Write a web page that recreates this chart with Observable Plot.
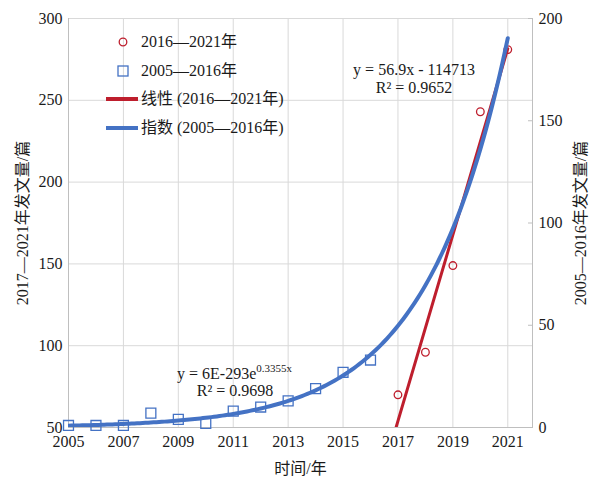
<!DOCTYPE html>
<html><head><meta charset="utf-8">
<script src="https://cdn.jsdelivr.net/npm/d3@7"></script>
<script src="https://cdn.jsdelivr.net/npm/@observablehq/plot@0.6"></script>
<style>
body{margin:0;background:#fff;}
#wrap{position:relative;width:608px;height:484px;font-family:"Liberation Serif","Noto Sans CJK SC",serif;color:#1a1a1a;}
#wrap svg{display:block;}
.ov{position:absolute;font-size:16px;white-space:nowrap;line-height:1;transform:translateY(-50%);}
.ovc{position:absolute;font-size:16px;white-space:nowrap;line-height:1;transform:translate(-50%,-50%);}
.ov sup{font-size:11px;vertical-align:0;position:relative;top:-7px;}
</style></head><body><div id="wrap"></div>
<script>
// ---- data ----
const years2 = [2017, 2018, 2019, 2020, 2021];          // 2016—2021年 (left axis)
const counts2 = [70, 96, 149, 243, 281];
const years1 = [2005, 2006, 2007, 2008, 2009, 2010, 2011, 2012, 2013, 2014, 2015, 2016]; // 2005—2016年 (right axis)
const counts1 = [1, 1, 1, 7, 4, 2, 8, 10, 13, 19, 27, 33];
const leftTicks = [50, 100, 150, 200, 250, 300];
const rightTicks = [0, 50, 100, 150, 200];
const xTicks = [2005, 2007, 2009, 2011, 2013, 2015, 2017, 2019, 2021];
const seriesNames = ["2016—2021年", "2005—2016年", "线性 (2016—2021年)", "指数 (2005—2016年)"];
const eqLinear = ["y = 56.9x - 114713", "R² = 0.9652"];
const eqExp = ["y = 6E-293e", "0.3355x", "R² = 0.9698"];
const yLeftTitle = "2017—2021年发文量/篇";
const yRightTitle = "2005—2016年发文量/篇";
const xTitle = "时间/年";

const RED = "#BE1E2D", BLUE = "#4472C4", GRID = "#d9d9d9", AXIS = "#bfbfbf";

// right axis (0–200) mapped onto left scale (50–300)
const toLeft = v => 50 + v * 250 / 200;
const fromLeft = d => (d - 50) * 200 / 250;

// least-squares linear trend on 2017–2021
function linfit(xs, ys) {
  const mx = d3.mean(xs), my = d3.mean(ys);
  const sxy = d3.sum(xs, (x, i) => (x - mx) * (ys[i] - my));
  const sxx = d3.sum(xs, x => (x - mx) ** 2);
  const b = sxy / sxx;
  return {b, a: my - b * mx};
}
const lin = linfit(years2, counts2);
const linLine = [2016, 2021].map(x => ({x, y: lin.a + lin.b * x}));
// exponential trend (log-linear fit) on 2005–2016
const ex = linfit(years1, counts1.map(Math.log));
const expLine = d3.range(2005, 2021.0001, 0.1).map(x => ({x, y: toLeft(Math.exp(ex.a + ex.b * x))}));

const pts2 = years2.map((x, i) => ({x, y: counts2[i]}));
const pts1 = years1.map((x, i) => ({x, y: toLeft(counts1[i])}));

const chart = Plot.plot({
  width: 608, height: 484,
  marginLeft: 68, marginRight: 76, marginTop: 18, marginBottom: 57,
  x: {domain: [2005, 2021.9]},
  y: {domain: [50, 300]},
  style: {fontFamily: '"Liberation Serif","Noto Sans CJK SC",serif', fontSize: "16px", color: "#1a1a1a", background: "white"},
  marks: [
    Plot.gridX(xTicks, {stroke: GRID, strokeOpacity: 1}),
    Plot.gridY(leftTicks, {stroke: GRID, strokeOpacity: 1}),
    Plot.ruleX([2005, 2021.9], {stroke: AXIS}),
    Plot.ruleY([50], {stroke: AXIS}),
    Plot.axisY(leftTicks, {anchor: "left", tickSize: 0, tickPadding: 6, label: null, tickFormat: d => String(d)}),
    Plot.axisY(rightTicks.map(toLeft), {anchor: "right", tickSize: 0, tickPadding: 6, label: null, tickFormat: d => String(Math.round(fromLeft(d)))}),
    Plot.axisY(rightTicks.map(toLeft), {anchor: "right", tickSize: 5, dx: -5, label: null, stroke: AXIS, tickFormat: () => ""}),
    Plot.axisX(xTicks, {tickSize: 0, tickPadding: 8, label: null, tickFormat: d => String(d)}),
    Plot.dot(pts1, {x: "x", y: "y", symbol: "square", r: 5.6, stroke: BLUE, strokeWidth: 1.3, fill: "none"}),
    Plot.dot(pts2, {x: "x", y: "y", symbol: "circle", r: 3.8, stroke: RED, strokeWidth: 1.3, fill: "none"}),
    Plot.line(linLine, {x: "x", y: "y", stroke: RED, strokeWidth: 3, clip: true}),
    Plot.line(expLine, {x: "x", y: "y", stroke: BLUE, strokeWidth: 4, clip: true}),
    Plot.text([yLeftTitle], {text: d => d, frameAnchor: "left", textAnchor: "middle", lineAnchor: "middle", dx: -46, rotate: -90, fontSize: 16, fill: "#1a1a1a"}),
    Plot.text([yRightTitle], {text: d => d, frameAnchor: "right", textAnchor: "middle", lineAnchor: "middle", dx: 48, rotate: -90, fontSize: 16, fill: "#1a1a1a"}),
    Plot.text([xTitle], {text: d => d, frameAnchor: "bottom", textAnchor: "middle", lineAnchor: "middle", dy: 41, fontSize: 16, fill: "#1a1a1a"})
  ]
});
const wrap = document.getElementById("wrap");
wrap.appendChild(chart);

function add(html, cls, left, top) {
  const d = document.createElement("div");
  d.className = cls; d.style.left = left + "px"; d.style.top = top + "px";
  d.innerHTML = html; wrap.appendChild(d);
}
// legend
const sym = (inner) => `<svg width="36" height="16" style="position:absolute;left:-36px;top:50%;transform:translateY(-50%)">${inner}</svg>`;
add(sym(`<circle cx="18" cy="8" r="3.8" fill="none" stroke="${RED}" stroke-width="1.3"/>`) + seriesNames[0], "ov", 141, 42);
add(sym(`<rect x="13" y="3" width="10" height="10" fill="none" stroke="${BLUE}" stroke-width="1.3"/>`) + seriesNames[1], "ov", 141, 71);
add(sym(`<line x1="1" x2="33" y1="8" y2="8" stroke="${RED}" stroke-width="4"/>`) + seriesNames[2], "ov", 141, 99);
add(sym(`<line x1="1" x2="33" y1="8" y2="8" stroke="${BLUE}" stroke-width="4"/>`) + seriesNames[3], "ov", 141, 128);
// equations
add(eqLinear[0], "ovc", 414, 70);
add(eqLinear[1], "ovc", 414, 88);
add(`${eqExp[0]}<sup>${eqExp[1]}</sup>`, "ov", 177, 374);
add(eqExp[2], "ovc", 235, 391);
</script>
</body></html>
